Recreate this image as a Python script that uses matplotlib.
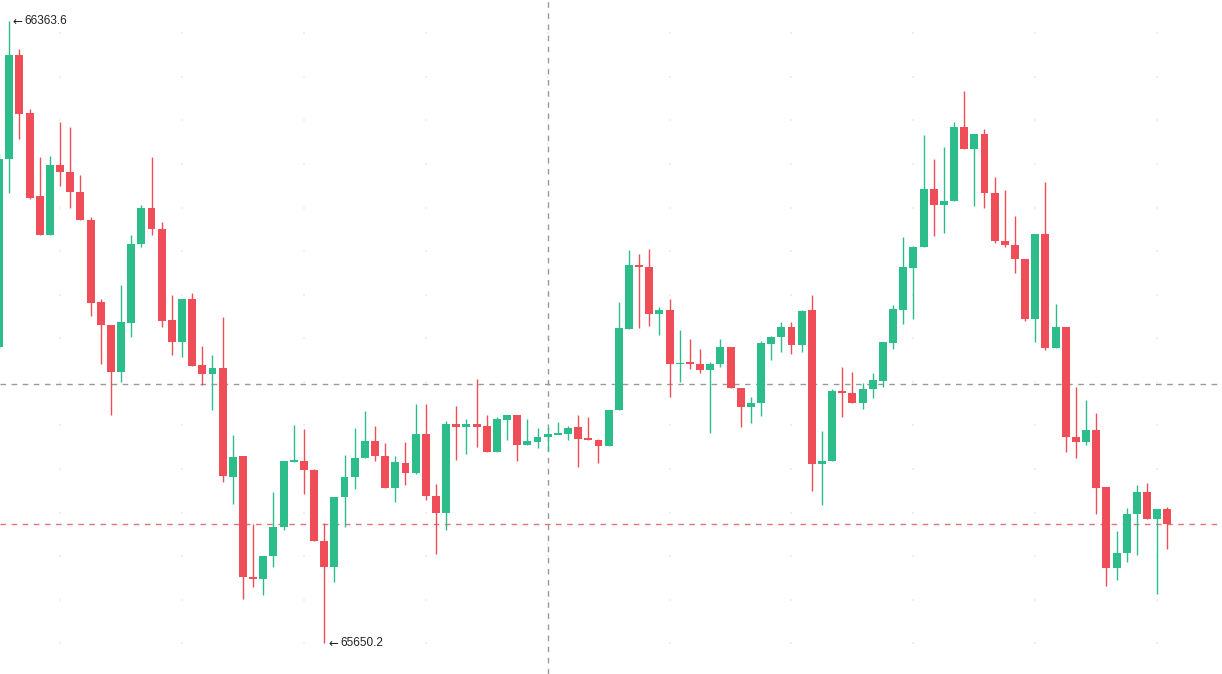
import matplotlib
matplotlib.use("Agg")
import matplotlib.pyplot as plt
import numpy as np

# OHLC values (one entry per candle, left to right)
opens = [65989.7, 66206.2, 66325.2, 66258.8, 66162.9, 66118.6, 66199.3, 66190.4, 66168.3, 66136.3,
         66041.3, 66015.8, 65961.6, 66017.7, 66107.8, 66149.1, 66126.0, 66020.7, 65996.1, 66044.8,
         65969.0, 65958.7, 65966.1, 65841.1, 65865.2, 65726.5, 65724.0, 65750.1, 65783.0, 65858.3,
         65859.3, 65848.5, 65767.3, 65737.3, 65817.5, 65841.1, 65862.7, 65882.4, 65865.2, 65828.8,
         65856.8, 65845.5, 65890.3, 65819.0, 65799.3, 65901.1, 65898.7, 65902.1, 65899.6, 65869.1,
         65906.0, 65911.9, 65878.0, 65880.5, 65886.4, 65889.8, 65889.8, 65897.7, 65885.4, 65882.9,
         65876.5, 65918.3, 66010.8, 66084.6, 66082.2, 66028.1, 66033.0, 65970.0, 65972.5, 65971.0,
         65964.1, 65971.0, 65989.7, 65942.9, 65920.8, 65925.7, 65993.6, 66002.0, 66012.8, 65992.1,
         66032.0, 65855.9, 65859.3, 65939.0, 65937.0, 65925.7, 65942.4, 65951.3, 65994.6, 66033.0,
         66080.7, 66104.3, 66171.7, 66153.0, 66157.0, 66242.1, 66217.0, 66234.7, 66166.8, 66111.7,
         66107.3, 66091.5, 66022.6, 66119.6, 65989.2, 66012.8, 65886.4, 65881.4, 65894.7, 65829.8,
         65736.3, 65753.5, 65798.8, 65823.4, 65792.9, 65804.2]
highs = [66211.1, 66363.6, 66331.6, 66262.7, 66208.6, 66209.6, 66248.5, 66242.1, 66187.5, 66139.7,
         66045.3, 66015.8, 66061.5, 66119.1, 66153.0, 66208.6, 66133.3, 66049.7, 66044.8, 66052.2,
         65991.6, 65981.3, 66024.1, 65888.8, 65865.2, 65787.0, 65750.1, 65823.9, 65859.3, 65900.1,
         65896.2, 65849.5, 65788.0, 65817.5, 65865.7, 65897.2, 65916.9, 65899.6, 65880.0, 65865.2,
         65880.5, 65924.2, 65924.7, 65833.2, 65904.6, 65922.3, 65907.5, 65953.8, 65912.4, 65910.0,
         65912.4, 65911.9, 65907.0, 65897.2, 65897.7, 65903.6, 65899.6, 65912.4, 65910.0, 65883.9,
         65918.3, 66041.3, 66101.9, 66096.9, 66102.8, 66036.4, 66045.3, 66009.4, 65999.5, 65988.2,
         65972.5, 65999.5, 65989.7, 65942.9, 65933.1, 65997.1, 66003.0, 66019.2, 66018.2, 66032.5,
         66050.2, 65893.7, 65942.0, 65966.6, 65961.1, 65948.8, 65960.2, 65995.6, 66037.9, 66116.1,
         66106.3, 66233.2, 66205.2, 66219.9, 66248.0, 66283.4, 66234.7, 66240.6, 66185.0, 66170.2,
         66140.7, 66091.5, 66119.6, 66179.1, 66038.9, 66012.8, 65944.4, 65929.7, 65914.4, 65829.8,
         65779.1, 65805.2, 65832.2, 65833.7, 65804.2, 65806.7]
lows = [65987.2, 66166.8, 66228.3, 66159.4, 66118.1, 66118.1, 66174.2, 66149.6, 66135.8, 66025.6,
        65970.0, 65912.4, 65950.3, 66001.0, 66105.3, 66118.6, 66013.3, 65981.3, 65978.4, 65968.5,
        65946.4, 65918.3, 65834.7, 65810.1, 65700.9, 65715.1, 65705.8, 65737.8, 65780.6, 65858.3,
        65821.4, 65767.3, 65650.2, 65720.1, 65784.0, 65827.3, 65862.7, 65859.3, 65828.3, 65812.6,
        65832.2, 65844.0, 65814.0, 65752.5, 65779.6, 65860.3, 65866.7, 65875.5, 65869.1, 65869.1,
        65882.9, 65859.3, 65878.0, 65874.1, 65870.6, 65889.8, 65882.9, 65852.9, 65882.9, 65856.8,
        65876.5, 65918.3, 66010.8, 66011.8, 66014.3, 66003.5, 65933.1, 65950.3, 65965.1, 65960.2,
        65891.3, 65967.5, 65942.9, 65897.7, 65902.6, 65911.0, 65974.9, 65983.8, 65982.3, 65984.8,
        65824.9, 65808.6, 65859.3, 65909.5, 65925.7, 65919.3, 65931.6, 65943.9, 65987.2, 66016.7,
        66021.7, 66104.3, 66117.6, 66121.0, 66157.0, 66217.0, 66151.5, 66149.6, 66109.2, 66104.3,
        66074.8, 66020.2, 65996.1, 65986.2, 65989.2, 65870.1, 65863.2, 65878.0, 65798.8, 65715.6,
        65722.5, 65743.7, 65751.1, 65792.9, 65706.8, 65758.4]
closes = [66206.2, 66325.2, 66257.8, 66161.4, 66118.6, 66199.3, 66190.9, 66167.8, 66135.8, 66040.8,
          66015.8, 65961.6, 66018.7, 66108.7, 66149.1, 66125.0, 66020.2, 65996.1, 66044.8, 65968.5,
          65958.7, 65966.1, 65842.1, 65864.2, 65726.5, 65724.0, 65750.1, 65784.0, 65859.3, 65860.3,
          65848.5, 65767.3, 65737.3, 65817.5, 65841.1, 65862.7, 65882.4, 65865.2, 65828.3, 65857.8,
          65846.0, 65890.3, 65818.5, 65799.3, 65901.1, 65898.7, 65902.1, 65898.7, 65869.1, 65907.0,
          65911.9, 65878.0, 65882.4, 65887.3, 65890.3, 65890.3, 65897.2, 65883.9, 65882.9, 65876.5,
          65918.3, 66011.8, 66084.6, 66082.2, 66028.1, 66033.0, 65970.0, 65972.0, 65971.0, 65964.1,
          65971.0, 65989.7, 65942.9, 65920.8, 65925.7, 65994.6, 66002.0, 66012.8, 65992.1, 66031.5,
          65855.9, 65859.3, 65939.5, 65937.0, 65925.7, 65942.4, 65951.8, 65995.6, 66034.0, 66081.7,
          66105.3, 66171.2, 66153.0, 66157.0, 66242.1, 66217.0, 66234.7, 66166.8, 66111.7, 66107.3,
          66091.5, 66022.6, 66119.6, 65989.2, 66012.8, 65886.4, 65881.4, 65894.7, 65828.8, 65736.3,
          65753.5, 65798.8, 65823.4, 65792.9, 65804.2, 65787.0]

high_label = "66363.6"
low_label = "65650.2"
crosshair_index = 54
crosshair_price = 65947.0

UP = "#2DBD8A"
DOWN = "#EF4E59"

fig = plt.figure(figsize=(12.22, 6.74), dpi=100)
ax = fig.add_axes([0, 0, 1, 1])
ax.set_facecolor("white")
for s in ax.spines.values():
    s.set_visible(False)
ax.set_xticks([])
ax.set_yticks([])

n = len(opens)
xs = np.arange(n)
ax.set_xlim(0.085, 120.38)
ax.set_ylim(65614.8, 66388.2)

# very faint grid marks at grid intersections
gx = np.arange(6, 121, 12)
gy = np.arange(65650, 66400, 50)
GX, GY = np.meshgrid(gx, gy)
ax.scatter(GX.ravel(), GY.ravel(), s=3, color="#efefef", marker="s", lw=0, zorder=0)

# crosshair
ax.axvline(crosshair_index, color="#999999", lw=1.0, ls=(0, (4, 4)), zorder=1)
ax.axhline(crosshair_price, color="#999999", lw=1.0, ls=(0, (4, 4)), zorder=1)
# last price line
ax.axhline(closes[-1], color="#E2737B", lw=1.0, ls=(0, (4, 4)), zorder=1)

bw = 0.78
min_h = 1.8
for i in range(n):
    o, h, l, c = opens[i], highs[i], lows[i], closes[i]
    col = UP if c >= o else DOWN
    ax.vlines(xs[i], l, h, color=col, lw=1.0, zorder=2)
    bot = min(o, c)
    hgt = abs(c - o)
    if hgt < min_h:
        bot = (o + c) / 2 - min_h / 2
        hgt = min_h
    ax.bar(xs[i], hgt, bottom=bot, width=bw, color=col, edgecolor=col, lw=0, zorder=3)

imax = int(np.argmax(highs))
imin = int(np.argmin(lows))
fam = ["Liberation Sans", "DejaVu Sans"]
for idx, val, lab, dx in [(imax, highs[imax], high_label, 3), (imin, lows[imin], low_label, 4)]:
    ax.annotate("\u2190", xy=(xs[idx], val), xytext=(dx, 0), textcoords="offset pixels",
                fontsize=8.5, color="#222222", va="center", ha="left",
                family="DejaVu Sans", zorder=5)
    ax.annotate(lab, xy=(xs[idx], val), xytext=(dx + 12, 0), textcoords="offset pixels",
                fontsize=8.5, color="#222222", va="center", ha="left",
                family=fam, zorder=5)

fig.savefig("out.png", dpi=100, facecolor="white")
